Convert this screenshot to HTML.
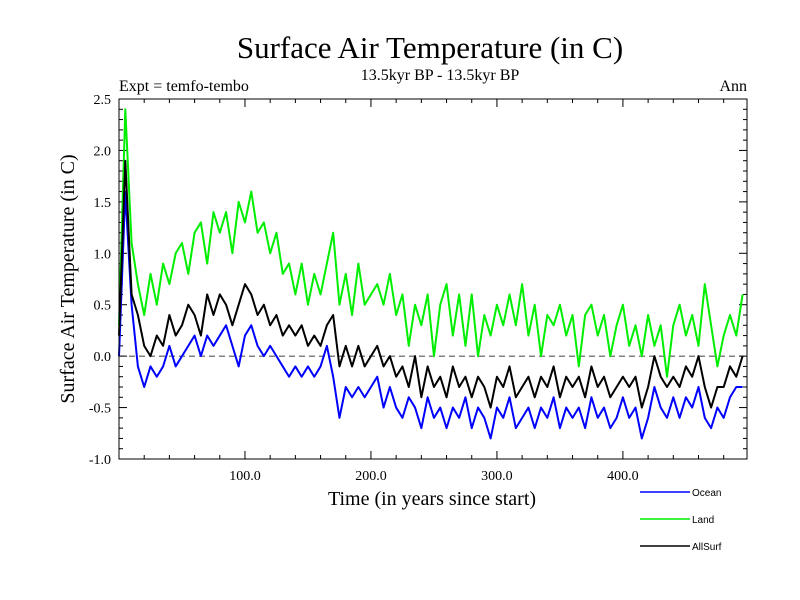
<!DOCTYPE html>
<html><head><meta charset="utf-8"><style>
body{margin:0;background:#fff}
svg{display:block}
text{font-family:"Liberation Serif",serif;fill:#000}
.lg{font-family:"Liberation Sans",sans-serif;font-size:10px}
</style></head><body>
<svg id="c" width="800" height="600">
<text x="430" y="58" font-size="31" text-anchor="middle">Surface Air Temperature (in C)</text>
<text x="440" y="80" font-size="16" text-anchor="middle">13.5kyr BP - 13.5kyr BP</text>
<text x="119" y="91" font-size="16">Expt = temfo-tembo</text>
<text x="747" y="91" font-size="16" text-anchor="end">Ann</text>
<text transform="translate(74,279) rotate(-90)" font-size="20" text-anchor="middle">Surface Air Temperature (in C)</text>
<text x="432" y="505" font-size="20" text-anchor="middle">Time (in years since start)</text>
<g id="ax"></g><g id="ser"></g>
<rect x="119" y="99" width="628" height="360" fill="none" stroke="#000" stroke-width="1"/>
<g id="leg"></g>
</svg>
<script>
const years=[];for(let i=0;i<100;i++)years.push(i*5);
const land=[0.3,2.4,1.1,0.7,0.4,0.8,0.5,0.9,0.7,1.0,1.1,0.8,1.2,1.3,0.9,1.4,1.2,1.4,1.0,1.5,1.3,1.6,1.2,1.3,1.0,1.2,0.8,0.9,0.6,0.9,0.5,0.8,0.6,0.9,1.2,0.5,0.8,0.4,0.9,0.5,0.6,0.7,0.5,0.8,0.4,0.6,0.1,0.5,0.3,0.6,0.0,0.5,0.7,0.2,0.6,0.1,0.6,0.0,0.4,0.2,0.5,0.3,0.6,0.3,0.7,0.2,0.5,0.0,0.4,0.3,0.5,0.2,0.4,-0.1,0.4,0.5,0.2,0.4,0.0,0.3,0.5,0.1,0.3,0.0,0.4,0.1,0.3,-0.2,0.3,0.5,0.2,0.4,0.1,0.7,0.3,-0.1,0.2,0.4,0.2,0.6];
const ocean=[0.0,1.6,0.5,-0.1,-0.3,-0.1,-0.2,-0.1,0.1,-0.1,0.0,0.1,0.2,0.0,0.2,0.1,0.2,0.3,0.1,-0.1,0.2,0.3,0.1,0.0,0.1,0.0,-0.1,-0.2,-0.1,-0.2,-0.1,-0.2,-0.1,0.1,-0.2,-0.6,-0.3,-0.4,-0.3,-0.4,-0.3,-0.2,-0.5,-0.3,-0.5,-0.6,-0.4,-0.5,-0.7,-0.4,-0.6,-0.5,-0.7,-0.5,-0.6,-0.4,-0.7,-0.5,-0.6,-0.8,-0.5,-0.6,-0.4,-0.7,-0.6,-0.5,-0.7,-0.5,-0.6,-0.4,-0.7,-0.5,-0.6,-0.5,-0.7,-0.4,-0.6,-0.5,-0.7,-0.6,-0.4,-0.6,-0.5,-0.8,-0.6,-0.3,-0.5,-0.6,-0.4,-0.6,-0.4,-0.5,-0.3,-0.6,-0.7,-0.5,-0.6,-0.4,-0.3,-0.3];
const allsurf=[0.2,1.9,0.6,0.4,0.1,0.0,0.2,0.1,0.4,0.2,0.3,0.5,0.4,0.2,0.6,0.4,0.6,0.5,0.3,0.5,0.7,0.6,0.4,0.5,0.3,0.4,0.2,0.3,0.2,0.3,0.1,0.2,0.1,0.3,0.4,-0.1,0.1,-0.1,0.1,-0.1,0.0,0.1,-0.1,0.0,-0.2,-0.1,-0.3,0.0,-0.4,-0.1,-0.3,-0.2,-0.4,-0.1,-0.3,-0.2,-0.4,-0.2,-0.3,-0.5,-0.2,-0.3,-0.1,-0.4,-0.3,-0.2,-0.4,-0.2,-0.3,-0.1,-0.4,-0.2,-0.3,-0.2,-0.4,-0.1,-0.3,-0.2,-0.4,-0.3,-0.2,-0.3,-0.2,-0.5,-0.3,0.0,-0.2,-0.3,-0.2,-0.3,-0.1,-0.2,0.0,-0.3,-0.5,-0.3,-0.3,-0.1,-0.2,0.0];
const yTicks=[2.5,2.0,1.5,1.0,0.5,0.0,-0.5,-1.0];
const yTickLabels=["2.5","2.0","1.5","1.0","0.5","0.0","-0.5","-1.0"];
const xTicks=[100,200,300,400];
const xTickLabels=["100.0","200.0","300.0","400.0"];
const L=119,R=747,T=99,B=459,X0=0,X1=498.5,Y0=-1,Y1=2.5;
const sx=v=>L+(v-X0)/(X1-X0)*(R-L), sy=v=>B-(v-Y0)/(Y1-Y0)*(B-T);
const NS='http://www.w3.org/2000/svg';
function mk(t,a,p){const e=document.createElementNS(NS,t);for(const k in a)e.setAttribute(k,a[k]);p.appendChild(e);return e;}
const ax=document.getElementById('ax');
for(let v=-1;v<=2.501;v+=0.1){const y=sy(v);const maj=Math.abs(v*2-Math.round(v*2))<1e-6;const len=maj?8:4;
 const a=mk('line',{x1:L,x2:L+len,y1:y,y2:y,stroke:'#000'},ax);
 const b=mk('line',{x1:R,x2:R-len,y1:y,y2:y,stroke:'#000'},ax);}
for(let v=20;v<X1;v+=20){const x=sx(v);const maj=v%100===0;const len=maj?8:4;
 const a=mk('line',{x1:x,x2:x,y1:B,y2:B-len,stroke:'#000'},ax);
 const b=mk('line',{x1:x,x2:x,y1:T,y2:T+len,stroke:'#000'},ax);}
yTicks.forEach((v,i)=>{const t=mk('text',{x:L-8,y:sy(v)+5,'font-size':14,'text-anchor':'end'},ax);t.textContent=yTickLabels[i];
 });
xTicks.forEach((v,i)=>{const t=mk('text',{x:sx(v),y:B+21,'font-size':14,'text-anchor':'middle'},ax);t.textContent=xTickLabels[i];
 });
const z=mk('line',{x1:L,x2:R,y1:sy(0),y2:sy(0),stroke:'#000','stroke-dasharray':'6,4','stroke-width':0.8},ax);

const ser=document.getElementById('ser');
const series=[[land,'#00ee00','land-line'],[ocean,'#0000ff','ocean-line'],[allsurf,'#000000','allsurf-line']];
series.forEach(([d,c,n])=>{const p=mk('polyline',{points:d.map((v,i)=>sx(years[i])+','+sy(v)).join(' '),fill:'none',stroke:c,'stroke-width':2,'stroke-linejoin':'round'},ser);
 });
const leg=document.getElementById('leg');
[['Ocean','#0000ff',492],['Land','#00ee00',519],['AllSurf','#000000',546]].forEach(([t,c,y])=>{
 const l=mk('line',{x1:640,x2:690,y1:y,y2:y,stroke:c,'stroke-width':1.5},leg);
 const tx=mk('text',{x:692,y:y+4,class:'lg'},leg);tx.textContent=t;});
</script>
</body></html>
